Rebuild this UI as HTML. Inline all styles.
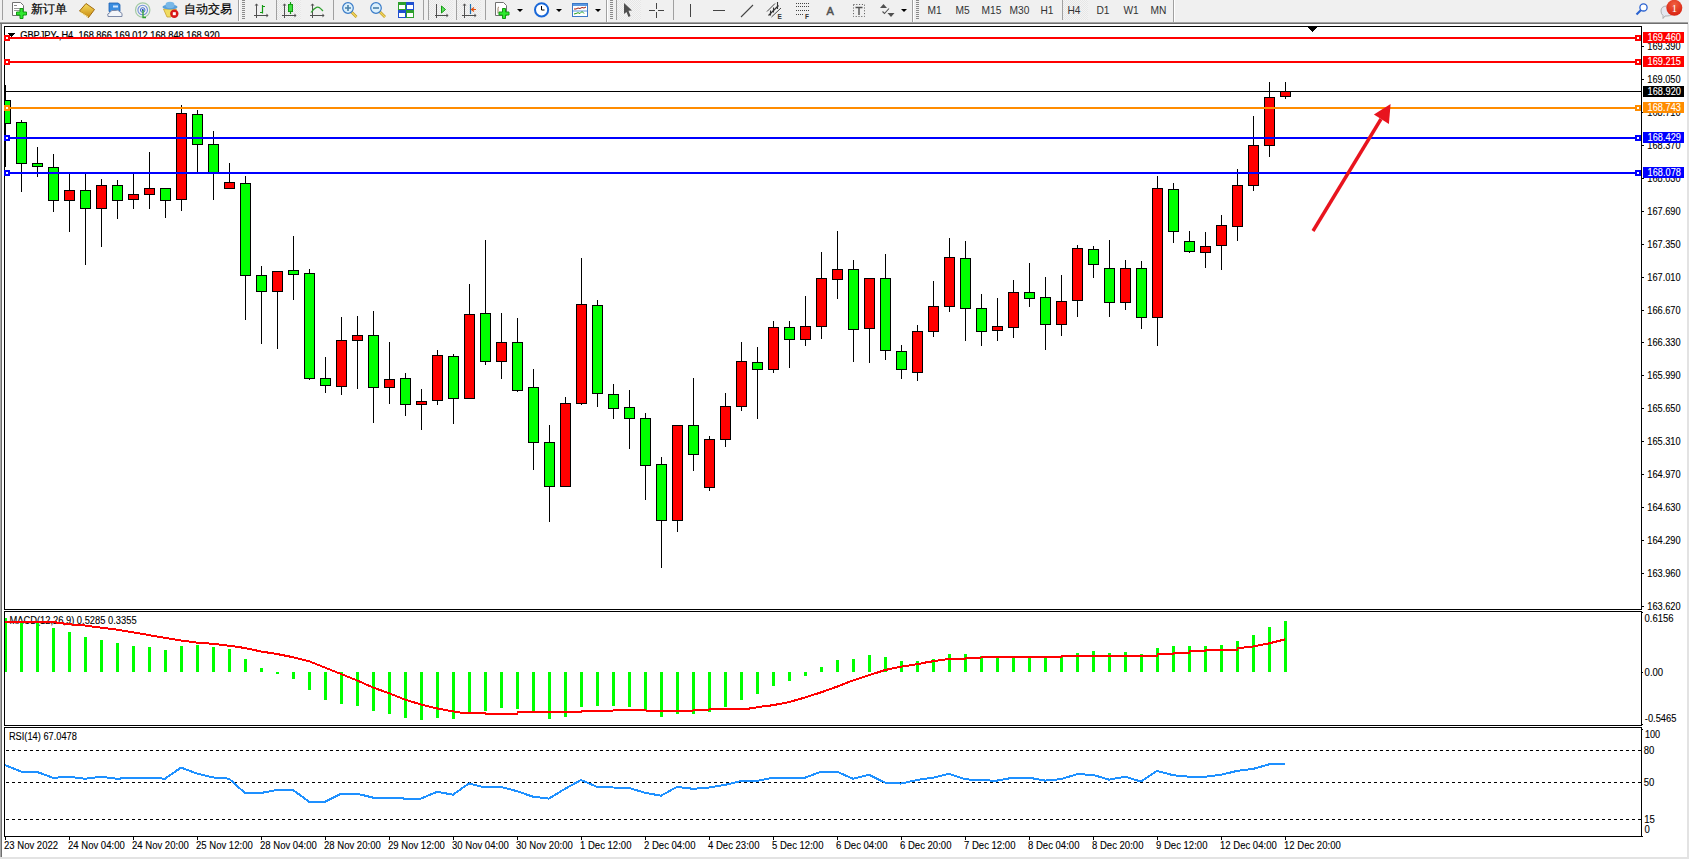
<!DOCTYPE html>
<html><head><meta charset="utf-8"><title>MT4</title>
<style>
html,body{margin:0;padding:0;}
body{width:1689px;height:859px;background:#f0f0f0;position:relative;overflow:hidden;font-family:"Liberation Sans", sans-serif;}
.tb{position:absolute;left:0;top:0;width:1689px;height:22px;background:#f0f0f0;}
.tb svg{position:absolute;left:0;top:0;}
</style></head><body>
<svg width="1689" height="859" viewBox="0 0 1689 859" style="position:absolute;left:0;top:0" shape-rendering="crispEdges"><rect x="2" y="24" width="1685" height="833" fill="#ffffff"/><rect x="0" y="22" width="1688" height="1" fill="#a3a3a3"/><rect x="0" y="23" width="1688" height="1" fill="#6f6f6f"/><rect x="0" y="24" width="1" height="835" fill="#a8a8a8"/><rect x="1" y="24" width="1" height="835" fill="#6e6e6e"/><rect x="1687" y="24" width="2" height="835" fill="#e3e3e3"/><rect x="0" y="857" width="1689" height="2" fill="#e3e3e3"/><rect x="4" y="26" width="1638" height="1" fill="#000"/><rect x="4" y="609" width="1638" height="1" fill="#000"/><rect x="4" y="26" width="1" height="584" fill="#000"/><rect x="1641" y="26" width="1" height="584" fill="#000"/><rect x="4" y="611" width="1638" height="1" fill="#000"/><rect x="4" y="725" width="1638" height="1" fill="#000"/><rect x="4" y="611" width="1" height="115" fill="#000"/><rect x="1641" y="611" width="1" height="115" fill="#000"/><rect x="4" y="727" width="1638" height="1" fill="#000"/><rect x="4" y="836" width="1638" height="1" fill="#000"/><rect x="4" y="727" width="1" height="110" fill="#000"/><rect x="1641" y="727" width="1" height="110" fill="#000"/><rect x="5" y="91" width="1636" height="1" fill="#000"/><text x="20.2" y="38.6" font-size="10" fill="#000" font-family='"Liberation Sans", sans-serif' textLength="199.5" lengthAdjust="spacingAndGlyphs" stroke="#000" stroke-width="0.2" shape-rendering="auto">GBPJPY-,H4&#160;&#160;168.866 169.012 168.848 168.920</text><polygon points="8,33 15,33 11.5,37" fill="#000"/><rect x="5" y="85" width="1" height="82" fill="#000"/><rect x="4" y="100" width="7" height="24" fill="#000"/><rect x="5" y="101" width="5" height="22" fill="#00ff00"/><rect x="21" y="120" width="1" height="72" fill="#000"/><rect x="16" y="122" width="11" height="42" fill="#000"/><rect x="17" y="123" width="9" height="40" fill="#00ff00"/><rect x="37" y="147" width="1" height="30" fill="#000"/><rect x="32" y="163" width="11" height="4" fill="#000"/><rect x="33" y="164" width="9" height="2" fill="#00ff00"/><rect x="53" y="154" width="1" height="58" fill="#000"/><rect x="48" y="167" width="11" height="34" fill="#000"/><rect x="49" y="168" width="9" height="32" fill="#00ff00"/><rect x="69" y="173" width="1" height="59" fill="#000"/><rect x="64" y="190" width="11" height="11" fill="#000"/><rect x="65" y="191" width="9" height="9" fill="#ff0000"/><rect x="85" y="173" width="1" height="92" fill="#000"/><rect x="80" y="190" width="11" height="19" fill="#000"/><rect x="81" y="191" width="9" height="17" fill="#00ff00"/><rect x="101" y="179" width="1" height="68" fill="#000"/><rect x="96" y="185" width="11" height="24" fill="#000"/><rect x="97" y="186" width="9" height="22" fill="#ff0000"/><rect x="117" y="180" width="1" height="39" fill="#000"/><rect x="112" y="185" width="11" height="16" fill="#000"/><rect x="113" y="186" width="9" height="14" fill="#00ff00"/><rect x="133" y="173" width="1" height="36" fill="#000"/><rect x="128" y="194" width="11" height="6" fill="#000"/><rect x="129" y="195" width="9" height="4" fill="#ff0000"/><rect x="149" y="152" width="1" height="57" fill="#000"/><rect x="144" y="188" width="11" height="7" fill="#000"/><rect x="145" y="189" width="9" height="5" fill="#ff0000"/><rect x="165" y="188" width="1" height="30" fill="#000"/><rect x="160" y="188" width="11" height="13" fill="#000"/><rect x="161" y="189" width="9" height="11" fill="#00ff00"/><rect x="181" y="105" width="1" height="106" fill="#000"/><rect x="176" y="113" width="11" height="87" fill="#000"/><rect x="177" y="114" width="9" height="85" fill="#ff0000"/><rect x="197" y="110" width="1" height="63" fill="#000"/><rect x="192" y="114" width="11" height="31" fill="#000"/><rect x="193" y="115" width="9" height="29" fill="#00ff00"/><rect x="213" y="131" width="1" height="69" fill="#000"/><rect x="208" y="144" width="11" height="29" fill="#000"/><rect x="209" y="145" width="9" height="27" fill="#00ff00"/><rect x="229" y="163" width="1" height="26" fill="#000"/><rect x="224" y="182" width="11" height="7" fill="#000"/><rect x="225" y="183" width="9" height="5" fill="#ff0000"/><rect x="245" y="176" width="1" height="144" fill="#000"/><rect x="240" y="183" width="11" height="93" fill="#000"/><rect x="241" y="184" width="9" height="91" fill="#00ff00"/><rect x="261" y="266" width="1" height="78" fill="#000"/><rect x="256" y="275" width="11" height="17" fill="#000"/><rect x="257" y="276" width="9" height="15" fill="#00ff00"/><rect x="277" y="271" width="1" height="78" fill="#000"/><rect x="272" y="271" width="11" height="21" fill="#000"/><rect x="273" y="272" width="9" height="19" fill="#ff0000"/><rect x="293" y="236" width="1" height="64" fill="#000"/><rect x="288" y="270" width="11" height="5" fill="#000"/><rect x="289" y="271" width="9" height="3" fill="#00ff00"/><rect x="309" y="269" width="1" height="111" fill="#000"/><rect x="304" y="273" width="11" height="106" fill="#000"/><rect x="305" y="274" width="9" height="104" fill="#00ff00"/><rect x="325" y="357" width="1" height="36" fill="#000"/><rect x="320" y="378" width="11" height="8" fill="#000"/><rect x="321" y="379" width="9" height="6" fill="#00ff00"/><rect x="341" y="317" width="1" height="78" fill="#000"/><rect x="336" y="340" width="11" height="47" fill="#000"/><rect x="337" y="341" width="9" height="45" fill="#ff0000"/><rect x="357" y="316" width="1" height="73" fill="#000"/><rect x="352" y="335" width="11" height="6" fill="#000"/><rect x="353" y="336" width="9" height="4" fill="#ff0000"/><rect x="373" y="311" width="1" height="112" fill="#000"/><rect x="368" y="335" width="11" height="53" fill="#000"/><rect x="369" y="336" width="9" height="51" fill="#00ff00"/><rect x="389" y="342" width="1" height="62" fill="#000"/><rect x="384" y="379" width="11" height="9" fill="#000"/><rect x="385" y="380" width="9" height="7" fill="#ff0000"/><rect x="405" y="373" width="1" height="43" fill="#000"/><rect x="400" y="378" width="11" height="27" fill="#000"/><rect x="401" y="379" width="9" height="25" fill="#00ff00"/><rect x="421" y="389" width="1" height="41" fill="#000"/><rect x="416" y="401" width="11" height="4" fill="#000"/><rect x="417" y="402" width="9" height="2" fill="#ff0000"/><rect x="437" y="350" width="1" height="55" fill="#000"/><rect x="432" y="355" width="11" height="46" fill="#000"/><rect x="433" y="356" width="9" height="44" fill="#ff0000"/><rect x="453" y="354" width="1" height="70" fill="#000"/><rect x="448" y="356" width="11" height="43" fill="#000"/><rect x="449" y="357" width="9" height="41" fill="#00ff00"/><rect x="469" y="284" width="1" height="115" fill="#000"/><rect x="464" y="314" width="11" height="85" fill="#000"/><rect x="465" y="315" width="9" height="83" fill="#ff0000"/><rect x="485" y="240" width="1" height="125" fill="#000"/><rect x="480" y="313" width="11" height="49" fill="#000"/><rect x="481" y="314" width="9" height="47" fill="#00ff00"/><rect x="501" y="313" width="1" height="66" fill="#000"/><rect x="496" y="342" width="11" height="20" fill="#000"/><rect x="497" y="343" width="9" height="18" fill="#ff0000"/><rect x="517" y="318" width="1" height="74" fill="#000"/><rect x="512" y="342" width="11" height="49" fill="#000"/><rect x="513" y="343" width="9" height="47" fill="#00ff00"/><rect x="533" y="369" width="1" height="101" fill="#000"/><rect x="528" y="387" width="11" height="56" fill="#000"/><rect x="529" y="388" width="9" height="54" fill="#00ff00"/><rect x="549" y="425" width="1" height="97" fill="#000"/><rect x="544" y="442" width="11" height="45" fill="#000"/><rect x="545" y="443" width="9" height="43" fill="#00ff00"/><rect x="565" y="397" width="1" height="90" fill="#000"/><rect x="560" y="403" width="11" height="84" fill="#000"/><rect x="561" y="404" width="9" height="82" fill="#ff0000"/><rect x="581" y="258" width="1" height="147" fill="#000"/><rect x="576" y="304" width="11" height="100" fill="#000"/><rect x="577" y="305" width="9" height="98" fill="#ff0000"/><rect x="597" y="300" width="1" height="107" fill="#000"/><rect x="592" y="305" width="11" height="89" fill="#000"/><rect x="593" y="306" width="9" height="87" fill="#00ff00"/><rect x="613" y="384" width="1" height="35" fill="#000"/><rect x="608" y="394" width="11" height="15" fill="#000"/><rect x="609" y="395" width="9" height="13" fill="#00ff00"/><rect x="629" y="390" width="1" height="59" fill="#000"/><rect x="624" y="407" width="11" height="12" fill="#000"/><rect x="625" y="408" width="9" height="10" fill="#00ff00"/><rect x="645" y="413" width="1" height="87" fill="#000"/><rect x="640" y="418" width="11" height="48" fill="#000"/><rect x="641" y="419" width="9" height="46" fill="#00ff00"/><rect x="661" y="457" width="1" height="111" fill="#000"/><rect x="656" y="464" width="11" height="57" fill="#000"/><rect x="657" y="465" width="9" height="55" fill="#00ff00"/><rect x="677" y="425" width="1" height="107" fill="#000"/><rect x="672" y="425" width="11" height="96" fill="#000"/><rect x="673" y="426" width="9" height="94" fill="#ff0000"/><rect x="693" y="378" width="1" height="93" fill="#000"/><rect x="688" y="425" width="11" height="30" fill="#000"/><rect x="689" y="426" width="9" height="28" fill="#00ff00"/><rect x="709" y="436" width="1" height="55" fill="#000"/><rect x="704" y="439" width="11" height="49" fill="#000"/><rect x="705" y="440" width="9" height="47" fill="#ff0000"/><rect x="725" y="393" width="1" height="54" fill="#000"/><rect x="720" y="406" width="11" height="34" fill="#000"/><rect x="721" y="407" width="9" height="32" fill="#ff0000"/><rect x="741" y="342" width="1" height="69" fill="#000"/><rect x="736" y="361" width="11" height="46" fill="#000"/><rect x="737" y="362" width="9" height="44" fill="#ff0000"/><rect x="757" y="347" width="1" height="72" fill="#000"/><rect x="752" y="362" width="11" height="8" fill="#000"/><rect x="753" y="363" width="9" height="6" fill="#00ff00"/><rect x="773" y="321" width="1" height="52" fill="#000"/><rect x="768" y="327" width="11" height="43" fill="#000"/><rect x="769" y="328" width="9" height="41" fill="#ff0000"/><rect x="789" y="321" width="1" height="47" fill="#000"/><rect x="784" y="327" width="11" height="13" fill="#000"/><rect x="785" y="328" width="9" height="11" fill="#00ff00"/><rect x="805" y="296" width="1" height="50" fill="#000"/><rect x="800" y="326" width="11" height="14" fill="#000"/><rect x="801" y="327" width="9" height="12" fill="#ff0000"/><rect x="821" y="252" width="1" height="87" fill="#000"/><rect x="816" y="278" width="11" height="49" fill="#000"/><rect x="817" y="279" width="9" height="47" fill="#ff0000"/><rect x="837" y="231" width="1" height="68" fill="#000"/><rect x="832" y="269" width="11" height="11" fill="#000"/><rect x="833" y="270" width="9" height="9" fill="#ff0000"/><rect x="853" y="260" width="1" height="102" fill="#000"/><rect x="848" y="269" width="11" height="61" fill="#000"/><rect x="849" y="270" width="9" height="59" fill="#00ff00"/><rect x="869" y="278" width="1" height="85" fill="#000"/><rect x="864" y="278" width="11" height="51" fill="#000"/><rect x="865" y="279" width="9" height="49" fill="#ff0000"/><rect x="885" y="254" width="1" height="106" fill="#000"/><rect x="880" y="278" width="11" height="73" fill="#000"/><rect x="881" y="279" width="9" height="71" fill="#00ff00"/><rect x="901" y="345" width="1" height="34" fill="#000"/><rect x="896" y="351" width="11" height="19" fill="#000"/><rect x="897" y="352" width="9" height="17" fill="#00ff00"/><rect x="917" y="325" width="1" height="56" fill="#000"/><rect x="912" y="331" width="11" height="42" fill="#000"/><rect x="913" y="332" width="9" height="40" fill="#ff0000"/><rect x="933" y="281" width="1" height="56" fill="#000"/><rect x="928" y="306" width="11" height="26" fill="#000"/><rect x="929" y="307" width="9" height="24" fill="#ff0000"/><rect x="949" y="238" width="1" height="74" fill="#000"/><rect x="944" y="257" width="11" height="50" fill="#000"/><rect x="945" y="258" width="9" height="48" fill="#ff0000"/><rect x="965" y="241" width="1" height="100" fill="#000"/><rect x="960" y="258" width="11" height="51" fill="#000"/><rect x="961" y="259" width="9" height="49" fill="#00ff00"/><rect x="981" y="294" width="1" height="52" fill="#000"/><rect x="976" y="308" width="11" height="24" fill="#000"/><rect x="977" y="309" width="9" height="22" fill="#00ff00"/><rect x="997" y="298" width="1" height="43" fill="#000"/><rect x="992" y="326" width="11" height="5" fill="#000"/><rect x="993" y="327" width="9" height="3" fill="#ff0000"/><rect x="1013" y="280" width="1" height="58" fill="#000"/><rect x="1008" y="292" width="11" height="36" fill="#000"/><rect x="1009" y="293" width="9" height="34" fill="#ff0000"/><rect x="1029" y="263" width="1" height="44" fill="#000"/><rect x="1024" y="292" width="11" height="7" fill="#000"/><rect x="1025" y="293" width="9" height="5" fill="#00ff00"/><rect x="1045" y="277" width="1" height="73" fill="#000"/><rect x="1040" y="297" width="11" height="28" fill="#000"/><rect x="1041" y="298" width="9" height="26" fill="#00ff00"/><rect x="1061" y="275" width="1" height="61" fill="#000"/><rect x="1056" y="301" width="11" height="24" fill="#000"/><rect x="1057" y="302" width="9" height="22" fill="#ff0000"/><rect x="1077" y="245" width="1" height="72" fill="#000"/><rect x="1072" y="248" width="11" height="53" fill="#000"/><rect x="1073" y="249" width="9" height="51" fill="#ff0000"/><rect x="1093" y="246" width="1" height="32" fill="#000"/><rect x="1088" y="249" width="11" height="16" fill="#000"/><rect x="1089" y="250" width="9" height="14" fill="#00ff00"/><rect x="1109" y="240" width="1" height="77" fill="#000"/><rect x="1104" y="268" width="11" height="35" fill="#000"/><rect x="1105" y="269" width="9" height="33" fill="#00ff00"/><rect x="1125" y="260" width="1" height="50" fill="#000"/><rect x="1120" y="268" width="11" height="35" fill="#000"/><rect x="1121" y="269" width="9" height="33" fill="#ff0000"/><rect x="1141" y="261" width="1" height="68" fill="#000"/><rect x="1136" y="268" width="11" height="50" fill="#000"/><rect x="1137" y="269" width="9" height="48" fill="#00ff00"/><rect x="1157" y="176" width="1" height="170" fill="#000"/><rect x="1152" y="188" width="11" height="130" fill="#000"/><rect x="1153" y="189" width="9" height="128" fill="#ff0000"/><rect x="1173" y="183" width="1" height="60" fill="#000"/><rect x="1168" y="189" width="11" height="43" fill="#000"/><rect x="1169" y="190" width="9" height="41" fill="#00ff00"/><rect x="1189" y="231" width="1" height="22" fill="#000"/><rect x="1184" y="241" width="11" height="11" fill="#000"/><rect x="1185" y="242" width="9" height="9" fill="#00ff00"/><rect x="1205" y="232" width="1" height="36" fill="#000"/><rect x="1200" y="246" width="11" height="7" fill="#000"/><rect x="1201" y="247" width="9" height="5" fill="#ff0000"/><rect x="1221" y="215" width="1" height="55" fill="#000"/><rect x="1216" y="225" width="11" height="21" fill="#000"/><rect x="1217" y="226" width="9" height="19" fill="#ff0000"/><rect x="1237" y="169" width="1" height="72" fill="#000"/><rect x="1232" y="185" width="11" height="42" fill="#000"/><rect x="1233" y="186" width="9" height="40" fill="#ff0000"/><rect x="1253" y="116" width="1" height="75" fill="#000"/><rect x="1248" y="145" width="11" height="41" fill="#000"/><rect x="1249" y="146" width="9" height="39" fill="#ff0000"/><rect x="1269" y="82" width="1" height="75" fill="#000"/><rect x="1264" y="97" width="11" height="49" fill="#000"/><rect x="1265" y="98" width="9" height="47" fill="#ff0000"/><rect x="1285" y="82" width="1" height="17" fill="#000"/><rect x="1280" y="91" width="11" height="6" fill="#000"/><rect x="1281" y="92" width="9" height="4" fill="#ff0000"/><rect x="5" y="37" width="1636" height="2" fill="#ff0000"/><rect x="4" y="35" width="6" height="6" fill="#ff0000"/><rect x="6" y="37" width="2" height="2" fill="#fff"/><rect x="1635" y="35" width="6" height="6" fill="#ff0000"/><rect x="1637" y="37" width="2" height="2" fill="#fff"/><rect x="5" y="61" width="1636" height="2" fill="#ff0000"/><rect x="4" y="59" width="6" height="6" fill="#ff0000"/><rect x="6" y="61" width="2" height="2" fill="#fff"/><rect x="1635" y="59" width="6" height="6" fill="#ff0000"/><rect x="1637" y="61" width="2" height="2" fill="#fff"/><rect x="5" y="107" width="1636" height="2" fill="#ff8c00"/><rect x="4" y="105" width="6" height="6" fill="#ff8c00"/><rect x="6" y="107" width="2" height="2" fill="#fff"/><rect x="1635" y="105" width="6" height="6" fill="#ff8c00"/><rect x="1637" y="107" width="2" height="2" fill="#fff"/><rect x="5" y="137" width="1636" height="2" fill="#0000ff"/><rect x="4" y="135" width="6" height="6" fill="#0000ff"/><rect x="6" y="137" width="2" height="2" fill="#fff"/><rect x="1635" y="135" width="6" height="6" fill="#0000ff"/><rect x="1637" y="137" width="2" height="2" fill="#fff"/><rect x="5" y="172" width="1636" height="2" fill="#0000ff"/><rect x="4" y="170" width="6" height="6" fill="#0000ff"/><rect x="6" y="172" width="2" height="2" fill="#fff"/><rect x="1635" y="170" width="6" height="6" fill="#0000ff"/><rect x="1637" y="172" width="2" height="2" fill="#fff"/><polygon points="1307,26 1318,26 1312.5,32" fill="#000"/><g shape-rendering="geometricPrecision"><line x1="1313" y1="231" x2="1381" y2="119" stroke="#e8141e" stroke-width="3.4"/><polygon points="1390.6,104 1373.9,114.4 1388.9,123.9" fill="#e8141e"/></g><rect x="1642" y="46" width="2" height="1" fill="#000"/><rect x="1642" y="79" width="2" height="1" fill="#000"/><rect x="1642" y="112" width="2" height="1" fill="#000"/><rect x="1642" y="145" width="2" height="1" fill="#000"/><rect x="1642" y="178" width="2" height="1" fill="#000"/><rect x="1642" y="211" width="2" height="1" fill="#000"/><rect x="1642" y="244" width="2" height="1" fill="#000"/><rect x="1642" y="277" width="2" height="1" fill="#000"/><rect x="1642" y="310" width="2" height="1" fill="#000"/><rect x="1642" y="342" width="2" height="1" fill="#000"/><rect x="1642" y="375" width="2" height="1" fill="#000"/><rect x="1642" y="408" width="2" height="1" fill="#000"/><rect x="1642" y="441" width="2" height="1" fill="#000"/><rect x="1642" y="474" width="2" height="1" fill="#000"/><rect x="1642" y="507" width="2" height="1" fill="#000"/><rect x="1642" y="540" width="2" height="1" fill="#000"/><rect x="1642" y="573" width="2" height="1" fill="#000"/><rect x="1642" y="606" width="2" height="1" fill="#000"/><rect x="1642" y="612" width="1" height="1" fill="#000"/><rect x="1642" y="672" width="1" height="1" fill="#000"/><rect x="1642" y="724" width="1" height="1" fill="#000"/><rect x="1642" y="729" width="1" height="1" fill="#000"/><rect x="1642" y="836" width="1" height="1" fill="#000"/><g font-family='"Liberation Sans", sans-serif' shape-rendering="auto"><text x="9.4" y="624" font-size="10" fill="#000" stroke="#000" stroke-width="0.1" textLength="127.2" lengthAdjust="spacingAndGlyphs">MACD(12,26,9) 0.5285 0.3355</text><text x="8.9" y="740" font-size="10" fill="#000" stroke="#000" stroke-width="0.1" textLength="68" lengthAdjust="spacingAndGlyphs">RSI(14) 67.0478</text></g><rect x="5" y="618" width="2" height="54" fill="#00ff00"/><rect x="20" y="623" width="3" height="49" fill="#00ff00"/><rect x="36" y="623" width="3" height="49" fill="#00ff00"/><rect x="52" y="628" width="3" height="44" fill="#00ff00"/><rect x="68" y="632" width="3" height="40" fill="#00ff00"/><rect x="84" y="637" width="3" height="35" fill="#00ff00"/><rect x="100" y="640" width="3" height="32" fill="#00ff00"/><rect x="116" y="643" width="3" height="29" fill="#00ff00"/><rect x="132" y="646" width="3" height="26" fill="#00ff00"/><rect x="148" y="647" width="3" height="25" fill="#00ff00"/><rect x="164" y="650" width="3" height="22" fill="#00ff00"/><rect x="180" y="646" width="3" height="26" fill="#00ff00"/><rect x="196" y="645" width="3" height="27" fill="#00ff00"/><rect x="212" y="647" width="3" height="25" fill="#00ff00"/><rect x="228" y="649" width="3" height="23" fill="#00ff00"/><rect x="244" y="659" width="3" height="13" fill="#00ff00"/><rect x="260" y="668" width="3" height="4" fill="#00ff00"/><rect x="276" y="672" width="3" height="2" fill="#00ff00"/><rect x="292" y="672" width="3" height="7" fill="#00ff00"/><rect x="308" y="672" width="3" height="18" fill="#00ff00"/><rect x="324" y="672" width="3" height="28" fill="#00ff00"/><rect x="340" y="672" width="3" height="32" fill="#00ff00"/><rect x="356" y="672" width="3" height="34" fill="#00ff00"/><rect x="372" y="672" width="3" height="39" fill="#00ff00"/><rect x="388" y="672" width="3" height="42" fill="#00ff00"/><rect x="404" y="672" width="3" height="46" fill="#00ff00"/><rect x="420" y="672" width="3" height="48" fill="#00ff00"/><rect x="436" y="672" width="3" height="46" fill="#00ff00"/><rect x="452" y="672" width="3" height="47" fill="#00ff00"/><rect x="468" y="672" width="3" height="41" fill="#00ff00"/><rect x="484" y="672" width="3" height="39" fill="#00ff00"/><rect x="500" y="672" width="3" height="36" fill="#00ff00"/><rect x="516" y="672" width="3" height="37" fill="#00ff00"/><rect x="532" y="672" width="3" height="41" fill="#00ff00"/><rect x="548" y="672" width="3" height="47" fill="#00ff00"/><rect x="564" y="672" width="3" height="45" fill="#00ff00"/><rect x="580" y="672" width="3" height="35" fill="#00ff00"/><rect x="596" y="672" width="3" height="34" fill="#00ff00"/><rect x="612" y="672" width="3" height="34" fill="#00ff00"/><rect x="628" y="672" width="3" height="35" fill="#00ff00"/><rect x="644" y="672" width="3" height="38" fill="#00ff00"/><rect x="660" y="672" width="3" height="45" fill="#00ff00"/><rect x="676" y="672" width="3" height="42" fill="#00ff00"/><rect x="692" y="672" width="3" height="42" fill="#00ff00"/><rect x="708" y="672" width="3" height="40" fill="#00ff00"/><rect x="724" y="672" width="3" height="35" fill="#00ff00"/><rect x="740" y="672" width="3" height="28" fill="#00ff00"/><rect x="756" y="672" width="3" height="22" fill="#00ff00"/><rect x="772" y="672" width="3" height="14" fill="#00ff00"/><rect x="788" y="672" width="3" height="9" fill="#00ff00"/><rect x="804" y="672" width="3" height="4" fill="#00ff00"/><rect x="820" y="667" width="3" height="5" fill="#00ff00"/><rect x="836" y="660" width="3" height="12" fill="#00ff00"/><rect x="852" y="659" width="3" height="13" fill="#00ff00"/><rect x="868" y="655" width="3" height="17" fill="#00ff00"/><rect x="884" y="657" width="3" height="15" fill="#00ff00"/><rect x="900" y="661" width="3" height="11" fill="#00ff00"/><rect x="916" y="661" width="3" height="11" fill="#00ff00"/><rect x="932" y="659" width="3" height="13" fill="#00ff00"/><rect x="948" y="654" width="3" height="18" fill="#00ff00"/><rect x="964" y="654" width="3" height="18" fill="#00ff00"/><rect x="980" y="656" width="3" height="16" fill="#00ff00"/><rect x="996" y="657" width="3" height="15" fill="#00ff00"/><rect x="1012" y="657" width="3" height="15" fill="#00ff00"/><rect x="1028" y="657" width="3" height="15" fill="#00ff00"/><rect x="1044" y="657" width="3" height="15" fill="#00ff00"/><rect x="1060" y="656" width="3" height="16" fill="#00ff00"/><rect x="1076" y="653" width="3" height="19" fill="#00ff00"/><rect x="1092" y="651" width="3" height="21" fill="#00ff00"/><rect x="1108" y="653" width="3" height="19" fill="#00ff00"/><rect x="1124" y="652" width="3" height="20" fill="#00ff00"/><rect x="1140" y="654" width="3" height="18" fill="#00ff00"/><rect x="1156" y="648" width="3" height="24" fill="#00ff00"/><rect x="1172" y="646" width="3" height="26" fill="#00ff00"/><rect x="1188" y="646" width="3" height="26" fill="#00ff00"/><rect x="1204" y="646" width="3" height="26" fill="#00ff00"/><rect x="1220" y="645" width="3" height="27" fill="#00ff00"/><rect x="1236" y="641" width="3" height="31" fill="#00ff00"/><rect x="1252" y="635" width="3" height="37" fill="#00ff00"/><rect x="1268" y="627" width="3" height="45" fill="#00ff00"/><rect x="1284" y="621" width="3" height="51" fill="#00ff00"/><polyline points="5,622 53,622 69,624.3 85,625.5 93,626.6 101,627.6 109,628.7 117,629.6 133,632.3 149,635.1 165,637.8 181,640.5 197,642.6 213,643.8 229,645.7 245,648 261,651.5 277,654 293,657.2 309,661.2 325,667.6 341,674 357,680.4 373,687.5 389,693.2 405,699.6 421,704.5 437,708.4 453,711.4 462,712.8 485,712.8 486,713.7 517,713.7 518,712.4 581,712.4 582,711.4 597,711.4 598,710.5 613,710.5 614,709.5 645,709.5 646,710.5 693,710.5 694,709.5 709,709.5 710,708.6 749,708.6 760,706.8 773,705.2 789,702.1 805.5,697.4 821.4,692.2 837.5,686.5 853.3,680.3 869.4,675.1 885.5,669.9 901.4,666.6 917.4,664.2 926,662.4 941,660 950,658.8 965,658.8 966,657.6 981,657.6 982,656.9 1061,656.9 1062,655.7 1157,655.7 1158,654.1 1173,654.1 1174,652.9 1189,652.9 1190,651.2 1205,651.2 1206,649.8 1237,649.8 1238,648.2 1253,646.5 1269,643.4 1285,639.4" fill="none" stroke="#ff0000" stroke-width="2"/><line x1="6" y1="750.5" x2="1641" y2="750.5" stroke="#000" stroke-width="1" stroke-dasharray="3,3"/><line x1="6" y1="782.5" x2="1641" y2="782.5" stroke="#000" stroke-width="1" stroke-dasharray="3,3"/><line x1="6" y1="819.5" x2="1641" y2="819.5" stroke="#000" stroke-width="1" stroke-dasharray="3,3"/><polyline points="5,765 21,771.5 37,771.9 53,777.8 69,776.8 85,778.7 101,776.8 117,778.7 133,777.8 149,777.8 165,778.7 181,767.6 197,773.5 213,777.4 229,778.7 245,793 261,793 277,789.9 293,789.9 309,801.8 325,801.8 341,793.7 357,793.7 373,797.6 389,797.6 405,798.6 421,798.6 437,791.8 453,794.7 469,783.4 485,787.5 501,786.9 517,791.2 533,796.7 549,798.6 565,788.8 581,780 597,786.9 613,787.5 629,787.9 645,792.8 661,795.7 677,786.9 693,788.8 709,787.5 725,784.9 741,781 757,781 773,777.7 789,777.7 805,777.7 821,771.7 837,771.7 853,778.7 869,774.8 885,782.6 901,783.6 917,780 933,777.7 949,773.8 965,779.2 981,780.4 997,780.6 1013,777.7 1029,777.7 1045,780.6 1061,779.1 1077,774.2 1093,774.8 1109,779.7 1125,776.7 1141,781.6 1157,770.9 1173,775.2 1189,776.7 1205,776.7 1221,774.8 1237,770.9 1253,768.9 1269,764.4 1285,763.8" fill="none" stroke="#1e90ff" stroke-width="2"/><rect x="5" y="837" width="1" height="3" fill="#000"/><rect x="69" y="837" width="1" height="3" fill="#000"/><rect x="133" y="837" width="1" height="3" fill="#000"/><rect x="197" y="837" width="1" height="3" fill="#000"/><rect x="261" y="837" width="1" height="3" fill="#000"/><rect x="325" y="837" width="1" height="3" fill="#000"/><rect x="389" y="837" width="1" height="3" fill="#000"/><rect x="453" y="837" width="1" height="3" fill="#000"/><rect x="517" y="837" width="1" height="3" fill="#000"/><rect x="581" y="837" width="1" height="3" fill="#000"/><rect x="645" y="837" width="1" height="3" fill="#000"/><rect x="709" y="837" width="1" height="3" fill="#000"/><rect x="773" y="837" width="1" height="3" fill="#000"/><rect x="837" y="837" width="1" height="3" fill="#000"/><rect x="901" y="837" width="1" height="3" fill="#000"/><rect x="965" y="837" width="1" height="3" fill="#000"/><rect x="1029" y="837" width="1" height="3" fill="#000"/><rect x="1093" y="837" width="1" height="3" fill="#000"/><rect x="1157" y="837" width="1" height="3" fill="#000"/><rect x="1221" y="837" width="1" height="3" fill="#000"/><rect x="1285" y="837" width="1" height="3" fill="#000"/><g font-family='"Liberation Sans", sans-serif' shape-rendering="auto"><text x="1647.3" y="50" font-size="10" fill="#000" stroke="#000" stroke-width="0.1" textLength="33.3" lengthAdjust="spacingAndGlyphs">169.390</text><text x="1647.3" y="83" font-size="10" fill="#000" stroke="#000" stroke-width="0.1" textLength="33.3" lengthAdjust="spacingAndGlyphs">169.050</text><text x="1647.3" y="116" font-size="10" fill="#000" stroke="#000" stroke-width="0.1" textLength="33.3" lengthAdjust="spacingAndGlyphs">168.710</text><text x="1647.3" y="149" font-size="10" fill="#000" stroke="#000" stroke-width="0.1" textLength="33.3" lengthAdjust="spacingAndGlyphs">168.370</text><text x="1647.3" y="182" font-size="10" fill="#000" stroke="#000" stroke-width="0.1" textLength="33.3" lengthAdjust="spacingAndGlyphs">168.030</text><text x="1647.3" y="215" font-size="10" fill="#000" stroke="#000" stroke-width="0.1" textLength="33.3" lengthAdjust="spacingAndGlyphs">167.690</text><text x="1647.3" y="248" font-size="10" fill="#000" stroke="#000" stroke-width="0.1" textLength="33.3" lengthAdjust="spacingAndGlyphs">167.350</text><text x="1647.3" y="281" font-size="10" fill="#000" stroke="#000" stroke-width="0.1" textLength="33.3" lengthAdjust="spacingAndGlyphs">167.010</text><text x="1647.3" y="314" font-size="10" fill="#000" stroke="#000" stroke-width="0.1" textLength="33.3" lengthAdjust="spacingAndGlyphs">166.670</text><text x="1647.3" y="346" font-size="10" fill="#000" stroke="#000" stroke-width="0.1" textLength="33.3" lengthAdjust="spacingAndGlyphs">166.330</text><text x="1647.3" y="379" font-size="10" fill="#000" stroke="#000" stroke-width="0.1" textLength="33.3" lengthAdjust="spacingAndGlyphs">165.990</text><text x="1647.3" y="412" font-size="10" fill="#000" stroke="#000" stroke-width="0.1" textLength="33.3" lengthAdjust="spacingAndGlyphs">165.650</text><text x="1647.3" y="445" font-size="10" fill="#000" stroke="#000" stroke-width="0.1" textLength="33.3" lengthAdjust="spacingAndGlyphs">165.310</text><text x="1647.3" y="478" font-size="10" fill="#000" stroke="#000" stroke-width="0.1" textLength="33.3" lengthAdjust="spacingAndGlyphs">164.970</text><text x="1647.3" y="511" font-size="10" fill="#000" stroke="#000" stroke-width="0.1" textLength="33.3" lengthAdjust="spacingAndGlyphs">164.630</text><text x="1647.3" y="544" font-size="10" fill="#000" stroke="#000" stroke-width="0.1" textLength="33.3" lengthAdjust="spacingAndGlyphs">164.290</text><text x="1647.3" y="577" font-size="10" fill="#000" stroke="#000" stroke-width="0.1" textLength="33.3" lengthAdjust="spacingAndGlyphs">163.960</text><text x="1647.3" y="610" font-size="10" fill="#000" stroke="#000" stroke-width="0.1" textLength="33.3" lengthAdjust="spacingAndGlyphs">163.620</text><rect x="1643" y="32" width="41" height="11" fill="#ff0000"/><text x="1647.6" y="41" font-size="10" fill="#fff" stroke="#fff" stroke-width="0.1" textLength="33.3" lengthAdjust="spacingAndGlyphs">169.460</text><rect x="1643" y="56" width="41" height="11" fill="#ff0000"/><text x="1647.6" y="65" font-size="10" fill="#fff" stroke="#fff" stroke-width="0.1" textLength="33.3" lengthAdjust="spacingAndGlyphs">169.215</text><rect x="1643" y="86" width="41" height="11" fill="#000000"/><text x="1647.6" y="95" font-size="10" fill="#fff" stroke="#fff" stroke-width="0.1" textLength="33.3" lengthAdjust="spacingAndGlyphs">168.920</text><rect x="1643" y="102" width="41" height="11" fill="#ff8c00"/><text x="1647.6" y="111" font-size="10" fill="#fff" stroke="#fff" stroke-width="0.1" textLength="33.3" lengthAdjust="spacingAndGlyphs">168.743</text><rect x="1643" y="132" width="41" height="11" fill="#0000ff"/><text x="1647.6" y="141" font-size="10" fill="#fff" stroke="#fff" stroke-width="0.1" textLength="33.3" lengthAdjust="spacingAndGlyphs">168.429</text><rect x="1643" y="167" width="41" height="11" fill="#0000ff"/><text x="1647.6" y="176" font-size="10" fill="#fff" stroke="#fff" stroke-width="0.1" textLength="33.3" lengthAdjust="spacingAndGlyphs">168.078</text><text x="1644.6" y="622" font-size="10" fill="#000" stroke="#000" stroke-width="0.1" textLength="29" lengthAdjust="spacingAndGlyphs">0.6156</text><text transform="translate(1644.6,676) scale(0.955,1)" font-size="10" fill="#000" stroke="#000" stroke-width="0.1">0.00</text><text x="1644.8" y="722" font-size="10" fill="#000" stroke="#000" stroke-width="0.1" textLength="31.6" lengthAdjust="spacingAndGlyphs">-0.5465</text><text x="1644.9" y="738" font-size="10" fill="#000" stroke="#000" stroke-width="0.1" textLength="15.2" lengthAdjust="spacingAndGlyphs">100</text><text transform="translate(1643.7,754) scale(0.955,1)" font-size="10" fill="#000" stroke="#000" stroke-width="0.1">80</text><text transform="translate(1643.7,786) scale(0.955,1)" font-size="10" fill="#000" stroke="#000" stroke-width="0.1">50</text><text transform="translate(1644.3,823) scale(0.955,1)" font-size="10" fill="#000" stroke="#000" stroke-width="0.1">15</text><text transform="translate(1644.6,833) scale(0.955,1)" font-size="10" fill="#000" stroke="#000" stroke-width="0.1">0</text><text transform="translate(4,849) scale(0.955,1)" font-size="10" fill="#000" stroke="#000" stroke-width="0.1">23 Nov 2022</text><text transform="translate(68,849) scale(0.955,1)" font-size="10" fill="#000" stroke="#000" stroke-width="0.1">24 Nov 04:00</text><text transform="translate(132,849) scale(0.955,1)" font-size="10" fill="#000" stroke="#000" stroke-width="0.1">24 Nov 20:00</text><text transform="translate(196,849) scale(0.955,1)" font-size="10" fill="#000" stroke="#000" stroke-width="0.1">25 Nov 12:00</text><text transform="translate(260,849) scale(0.955,1)" font-size="10" fill="#000" stroke="#000" stroke-width="0.1">28 Nov 04:00</text><text transform="translate(324,849) scale(0.955,1)" font-size="10" fill="#000" stroke="#000" stroke-width="0.1">28 Nov 20:00</text><text transform="translate(388,849) scale(0.955,1)" font-size="10" fill="#000" stroke="#000" stroke-width="0.1">29 Nov 12:00</text><text transform="translate(452,849) scale(0.955,1)" font-size="10" fill="#000" stroke="#000" stroke-width="0.1">30 Nov 04:00</text><text transform="translate(516,849) scale(0.955,1)" font-size="10" fill="#000" stroke="#000" stroke-width="0.1">30 Nov 20:00</text><text transform="translate(580,849) scale(0.955,1)" font-size="10" fill="#000" stroke="#000" stroke-width="0.1">1 Dec 12:00</text><text transform="translate(644,849) scale(0.955,1)" font-size="10" fill="#000" stroke="#000" stroke-width="0.1">2 Dec 04:00</text><text transform="translate(708,849) scale(0.955,1)" font-size="10" fill="#000" stroke="#000" stroke-width="0.1">4 Dec 23:00</text><text transform="translate(772,849) scale(0.955,1)" font-size="10" fill="#000" stroke="#000" stroke-width="0.1">5 Dec 12:00</text><text transform="translate(836,849) scale(0.955,1)" font-size="10" fill="#000" stroke="#000" stroke-width="0.1">6 Dec 04:00</text><text transform="translate(900,849) scale(0.955,1)" font-size="10" fill="#000" stroke="#000" stroke-width="0.1">6 Dec 20:00</text><text transform="translate(964,849) scale(0.955,1)" font-size="10" fill="#000" stroke="#000" stroke-width="0.1">7 Dec 12:00</text><text transform="translate(1028,849) scale(0.955,1)" font-size="10" fill="#000" stroke="#000" stroke-width="0.1">8 Dec 04:00</text><text transform="translate(1092,849) scale(0.955,1)" font-size="10" fill="#000" stroke="#000" stroke-width="0.1">8 Dec 20:00</text><text transform="translate(1156,849) scale(0.955,1)" font-size="10" fill="#000" stroke="#000" stroke-width="0.1">9 Dec 12:00</text><text transform="translate(1220,849) scale(0.955,1)" font-size="10" fill="#000" stroke="#000" stroke-width="0.1">12 Dec 04:00</text><text transform="translate(1284,849) scale(0.955,1)" font-size="10" fill="#000" stroke="#000" stroke-width="0.1">12 Dec 20:00</text></g></svg>
<div class="tb"><svg width="1689" height="22" viewBox="0 0 1689 22" font-family="'Liberation Sans', sans-serif">
<defs>
<pattern id="chk" width="2" height="2" patternUnits="userSpaceOnUse"><rect width="2" height="2" fill="#f4f4f4"/><rect width="1" height="1" fill="#e6e6e6"/><rect x="1" y="1" width="1" height="1" fill="#e6e6e6"/></pattern>
<linearGradient id="gold" x1="0" y1="0" x2="0" y2="1"><stop offset="0" stop-color="#f8de60"/><stop offset="1" stop-color="#c88a10"/></linearGradient>
<radialGradient id="redb" cx="0.5" cy="0.3" r="0.7"><stop offset="0" stop-color="#f06040"/><stop offset="1" stop-color="#d82010"/></radialGradient>
</defs>
<g shape-rendering="crispEdges">
<!-- separators -->
<rect x="2" y="0" width="1" height="20" fill="#a0a0a0"/>
<rect x="238" y="0" width="1" height="21" fill="#a0a0a0"/><rect x="239" y="0" width="1" height="21" fill="#ffffff"/>
<rect x="276" y="0" width="1" height="20" fill="#a0a0a0"/>
<rect x="333" y="0" width="1" height="20" fill="#a0a0a0"/>
<rect x="423" y="0" width="1" height="20" fill="#a0a0a0"/>
<rect x="428" y="0" width="1" height="20" fill="#a0a0a0"/>
<rect x="456" y="0" width="1" height="20" fill="#a0a0a0"/>
<rect x="485" y="0" width="1" height="20" fill="#a0a0a0"/>
<rect x="606" y="0" width="1" height="22" fill="#a0a0a0"/><rect x="607" y="0" width="1" height="22" fill="#ffffff"/>
<rect x="616" y="0" width="1" height="20" fill="#a0a0a0"/>
<rect x="673" y="0" width="1" height="20" fill="#a0a0a0"/>
<rect x="912" y="0" width="1" height="22" fill="#a0a0a0"/><rect x="913" y="0" width="1" height="22" fill="#ffffff"/>
<rect x="1062" y="0" width="1" height="20" fill="#a0a0a0"/>
<rect x="1173" y="0" width="1" height="22" fill="#a0a0a0"/><rect x="1174" y="0" width="1" height="22" fill="#ffffff"/>
<!-- highlighted bgs -->
<rect x="277" y="0" width="24" height="20" fill="url(#chk)"/>
<rect x="429" y="0" width="24" height="20" fill="url(#chk)"/>
<rect x="457" y="0" width="24" height="20" fill="url(#chk)"/>
<rect x="617" y="0" width="24" height="20" fill="url(#chk)"/>
<rect x="1063" y="0" width="25" height="20" fill="url(#chk)"/>
<!-- grips -->
<g fill="#8a8a8a">
<rect x="242" y="0" width="3" height="1"/><rect x="242" y="2" width="3" height="1"/><rect x="242" y="4" width="3" height="1"/><rect x="242" y="6" width="3" height="1"/><rect x="242" y="8" width="3" height="1"/><rect x="242" y="10" width="3" height="1"/><rect x="242" y="12" width="3" height="1"/><rect x="242" y="14" width="3" height="1"/><rect x="242" y="16" width="3" height="1"/><rect x="242" y="18" width="3" height="1"/>
<rect x="610" y="0" width="3" height="1"/><rect x="610" y="2" width="3" height="1"/><rect x="610" y="4" width="3" height="1"/><rect x="610" y="6" width="3" height="1"/><rect x="610" y="8" width="3" height="1"/><rect x="610" y="10" width="3" height="1"/><rect x="610" y="12" width="3" height="1"/><rect x="610" y="14" width="3" height="1"/><rect x="610" y="16" width="3" height="1"/><rect x="610" y="18" width="3" height="1"/>
<rect x="916" y="0" width="3" height="1"/><rect x="916" y="2" width="3" height="1"/><rect x="916" y="4" width="3" height="1"/><rect x="916" y="6" width="3" height="1"/><rect x="916" y="8" width="3" height="1"/><rect x="916" y="10" width="3" height="1"/><rect x="916" y="12" width="3" height="1"/><rect x="916" y="14" width="3" height="1"/><rect x="916" y="16" width="3" height="1"/><rect x="916" y="18" width="3" height="1"/>
</g>
</g>
<!-- new order icon -->
<path d="M12.5,2.5 h8 l3,3 v10 h-11 z" fill="#fff" stroke="#707070"/>
<rect x="14" y="5" width="3" height="1" fill="#888"/><rect x="14" y="8" width="7" height="1" fill="#999"/><rect x="14" y="10" width="6" height="1" fill="#999"/>
<path d="M20,8.5 h3 v3.5 h3.5 v3 h-3.5 v3.5 h-3 v-3.5 h-3.5 v-3 h3.5 z" fill="#2ee82e" stroke="#139a13" stroke-width="1"/>
<text x="30.5" y="13.2" font-size="12" fill="#000" stroke="#000" stroke-width="0.2">新订单</text>
<!-- book -->
<path d="M79.5,11 L86,3.5 L94.5,9.5 L88.5,17.5 Z" fill="url(#gold)" stroke="#a06a10" stroke-width="1"/>
<path d="M80,12 L88,17" stroke="#fff0a0" stroke-width="1"/>
<!-- box cloud -->
<path d="M109,3 h9 l2,1.5 v7 h-11 z" fill="#3a8de0" stroke="#1e5fb0" stroke-width="0.8"/>
<rect x="113" y="5.5" width="5" height="2" fill="#cfe6ff"/>
<path d="M108,16.5 q-1.5,-3 2,-4 q1,-3 5,-2 q3,-1.5 5,1.5 q3,0.5 2,4.5 z" fill="#f4f6fa" stroke="#7d8aa8" stroke-width="1"/>
<!-- radio -->
<circle cx="142.7" cy="10" r="7.2" fill="none" stroke="#8fc090" stroke-width="1.2" opacity="0.8"/>
<circle cx="142.7" cy="10" r="4.8" fill="none" stroke="#7090d8" stroke-width="1.1"/>
<circle cx="142.7" cy="10" r="2.3" fill="none" stroke="#4070d0" stroke-width="1"/>
<circle cx="142.7" cy="10" r="1" fill="#1040c0"/>
<path d="M143,10 v7.5 h3" stroke="#30a030" stroke-width="1.3" fill="none"/>
<!-- auto trading -->
<path d="M163.5,9 L176.5,9 L171,17 L167,17 Z" fill="#f0dc60" stroke="#c8a030" stroke-width="0.8"/>
<ellipse cx="170" cy="7" rx="7.5" ry="2.5" fill="#5aa0d8"/>
<ellipse cx="170" cy="5" rx="4.5" ry="3.2" fill="#78b8e8"/>
<circle cx="174.3" cy="13.7" r="4.2" fill="#d81818"/>
<rect x="172.8" y="12.2" width="3" height="3" fill="#fff"/>
<text x="183.5" y="13.2" font-size="12" fill="#000" stroke="#000" stroke-width="0.2">自动交易</text>
<!-- chart type icons -->
<g stroke="#505050" stroke-width="1" fill="none" shape-rendering="crispEdges">
<path d="M256.5,4 v14 M254,15.5 h14"/>
<path d="M284.5,4 v14 M282,15.5 h14"/>
<path d="M312.5,4 v14 M310,15.5 h14"/>
<path d="M436.5,4 v14 M435,15.5 h13"/>
<path d="M464.5,4 v14 M462,15.5 h14"/>
</g>
<g fill="#505050">
<path d="M254.5,5.5 l2,-2 l2,2 z"/><path d="M266.5,13.5 l2,2 l-2,2 z"/>
<path d="M282.5,5.5 l2,-2 l2,2 z"/><path d="M294.5,13.5 l2,2 l-2,2 z"/>
<path d="M310.5,5.5 l2,-2 l2,2 z"/><path d="M322.5,13.5 l2,2 l-2,2 z"/>
<path d="M446.5,13.5 l2,2 l-2,2 z"/>
<path d="M462.5,5.5 l2,-2 l2,2 z"/><path d="M474.5,13.5 l2,2 l-2,2 z"/>
</g>
<path d="M262.5,5 v8.5 M262.5,6.5 h2.5 M262.5,12.5 h-2.5" stroke="#139a13" stroke-width="1.2" fill="none"/>
<path d="M290.5,2 v12" stroke="#139a13" stroke-width="1.2"/>
<rect x="288.5" y="4.5" width="4" height="7" fill="#40e040" stroke="#139a13"/>
<path d="M311,12.5 Q317,4 321,9 L323,11" stroke="#30a030" stroke-width="1.2" fill="none"/>
<!-- zoom in/out -->
<path d="M351,11.5 L356.5,17" stroke="#c09820" stroke-width="2.6"/>
<path d="M351,11.5 L356.5,17" stroke="#f0d860" stroke-width="1.2"/>
<circle cx="348" cy="8" r="5.3" fill="#dcf0fc" stroke="#3a7cc8" stroke-width="1.2"/>
<path d="M345,8 h6 M348,5 v6" stroke="#4a80a8" stroke-width="1.6"/>
<path d="M379.5,11.5 L385,17" stroke="#c09820" stroke-width="2.6"/>
<path d="M379.5,11.5 L385,17" stroke="#f0d860" stroke-width="1.2"/>
<circle cx="376" cy="8" r="5.3" fill="#dcf0fc" stroke="#3a7cc8" stroke-width="1.2"/>
<path d="M373,8 h6" stroke="#4a80a8" stroke-width="1.6"/>
<!-- tile -->
<g shape-rendering="crispEdges">
<rect x="398" y="2" width="8" height="8" fill="#2ea02e"/><rect x="406" y="2" width="8" height="8" fill="#2050d0"/>
<rect x="398" y="10" width="8" height="8" fill="#2050d0"/><rect x="406" y="10" width="8" height="8" fill="#2ea02e"/>
<rect x="399" y="5" width="6" height="4" fill="#fff"/><rect x="407" y="5" width="6" height="4" fill="#fff"/>
<rect x="399" y="13" width="6" height="4" fill="#fff"/><rect x="407" y="13" width="6" height="4" fill="#fff"/>
</g>
<!-- auto scroll -->
<path d="M441.5,6 L445.5,9.5 L441.5,13 Z" fill="#60e060" stroke="#139a13" stroke-width="1"/>
<!-- chart shift -->
<path d="M470.5,4 v10" stroke="#2070b0" stroke-width="1.2"/>
<path d="M471.5,9.5 h4.5 M474,7.5 l-2.5,2 l2.5,2" stroke="#e05010" stroke-width="1.2" fill="none"/>
<!-- indicators -->
<path d="M495.5,2.5 h8 l3,3 v10 h-11 z" fill="#fff" stroke="#707070"/>
<path d="M499,7 q-1,0 -1,1.5 v5" stroke="#806040" stroke-width="0.8" fill="none"/>
<path d="M502.5,8.5 h3 v3.5 h3.5 v3 h-3.5 v3.5 h-3 v-3.5 h-3.5 v-3 h3.5 z" fill="#2ee82e" stroke="#139a13" stroke-width="1"/>
<path d="M517,9 h6 l-3,3 z" fill="#000"/>
<!-- clock -->
<circle cx="541.6" cy="9.8" r="6.6" fill="#fff" stroke="#1a68d8" stroke-width="2"/>
<path d="M541.5,6 v4 h3" stroke="#000" stroke-width="1" fill="none"/>
<path d="M556,9 h6 l-3,3 z" fill="#000"/>
<!-- template -->
<rect x="572.5" y="3.5" width="15" height="13" fill="#fff" stroke="#3a78c8" stroke-width="1"/>
<rect x="573" y="4" width="14" height="2" fill="#5a98e0"/>
<rect x="573" y="10.5" width="14" height="1" fill="#5a98e0"/>
<path d="M574,9 l2,0 l2,-1 l2,0.5 l2,-1 l2,0.5 l2,-1" stroke="#a02010" stroke-width="1" fill="none"/>
<path d="M574,14 l2,-0.5 l2,-0.8 l2,0.8 l2,-2 l2,2" stroke="#20a020" stroke-width="1" fill="none"/>
<path d="M595,9 h6 l-3,3 z" fill="#000"/>
<!-- cursor -->
<path d="M624,3 L632,10.5 L628.5,10.8 L630.5,16 L628.5,17 L626.5,12 L624,14 Z" fill="#505050"/>
<!-- crosshair -->
<g shape-rendering="crispEdges" fill="#444">
<rect x="649" y="10" width="6" height="1"/><rect x="658" y="10" width="6" height="1"/>
<rect x="656" y="3" width="1" height="6"/><rect x="656" y="12" width="1" height="6"/>
<rect x="690" y="4" width="1" height="13"/>
<rect x="713" y="10" width="12" height="1"/>
</g>
<path d="M741,17 L753,5" stroke="#444" stroke-width="1.1"/>
<!-- channel -->
<path d="M767,11.5 L775,3.5 M771.5,17 L781,8" stroke="#444" stroke-width="1" fill="none"/>
<path d="M768.5,15.5 L778.5,5.5" stroke="#333" stroke-width="1.3" fill="none"/>
<path d="M770.5,10.5 v5 M773.5,7.5 v5 M777.5,2 v7" stroke="#333" stroke-width="1.1" fill="none"/>
<text x="777.5" y="19" font-size="6.5" font-weight="bold" fill="#333">E</text>
<!-- fibo -->
<g fill="#444" shape-rendering="crispEdges">
<rect x="796" y="3" width="1" height="1"/><rect x="798" y="3" width="1" height="1"/><rect x="800" y="3" width="1" height="1"/><rect x="802" y="3" width="1" height="1"/><rect x="804" y="3" width="1" height="1"/><rect x="806" y="3" width="1" height="1"/><rect x="808" y="3" width="1" height="1"/>
<rect x="796" y="6" width="1" height="1"/><rect x="798" y="6" width="1" height="1"/><rect x="800" y="6" width="1" height="1"/><rect x="802" y="6" width="1" height="1"/><rect x="804" y="6" width="1" height="1"/><rect x="806" y="6" width="1" height="1"/><rect x="808" y="6" width="1" height="1"/>
<rect x="796" y="10" width="1" height="1"/><rect x="798" y="10" width="1" height="1"/><rect x="800" y="10" width="1" height="1"/><rect x="802" y="10" width="1" height="1"/><rect x="804" y="10" width="1" height="1"/><rect x="806" y="10" width="1" height="1"/><rect x="808" y="10" width="1" height="1"/>
<rect x="796" y="14" width="1" height="1"/><rect x="798" y="14" width="1" height="1"/><rect x="800" y="14" width="1" height="1"/><rect x="802" y="14" width="1" height="1"/>
</g>
<text x="805" y="19" font-size="6.5" font-weight="bold" fill="#333">F</text>
<!-- A -->
<text x="826.5" y="14.8" font-size="11" fill="#505050" stroke="#505050" stroke-width="0.5">A</text>
<!-- T box -->
<rect x="853.5" y="4.5" width="11" height="12" fill="none" stroke="#555" stroke-width="1" stroke-dasharray="1,1.8"/>
<path d="M855.5,7.5 h7 M859,7.5 v7.5" stroke="#505050" stroke-width="1.4"/>
<!-- arrows -->
<path d="M880,8 L883.5,4 L887,8 Z" fill="#505050"/>
<path d="M882.5,11.5 L884.5,13.5 L889,8.5" stroke="#505050" stroke-width="1.1" fill="none"/>
<path d="M887.5,13 L891,17 L894.5,13 Z" fill="#505050"/>
<path d="M901,9 h6 l-3,3 z" fill="#000"/>
<!-- timeframes -->
<g font-size="10.2" fill="#333">
<text x="927.5" y="14.2">M1</text>
<text x="955.5" y="14.2">M5</text>
<text x="981.5" y="14.2">M15</text>
<text x="1009.5" y="14.2">M30</text>
<text x="1040.5" y="14.2">H1</text>
<text x="1067.5" y="14.2">H4</text>
<text x="1096.5" y="14.2">D1</text>
<text x="1123.5" y="14.2">W1</text>
<text x="1150.5" y="14.2">MN</text>
</g>
<!-- search -->
<circle cx="1643.5" cy="7.4" r="3.6" fill="#fff" stroke="#2a62d0" stroke-width="1.3"/>
<path d="M1641,10 L1636.5,14.5" stroke="#2a62d0" stroke-width="2.2"/>
<!-- notification -->
<path d="M1661,11 q0,-5 6,-5 q6,0 6,5 q0,5 -6,5 h-2 l-2,2.5 v-3 q-2,-1.5 -2,-4.5 z" fill="#e4e6ee" stroke="#a0a0a0" stroke-width="0.8"/>
<circle cx="1674.3" cy="7.8" r="8" fill="url(#redb)"/>
<text x="1674.3" y="12" font-size="10.5" fill="#fff" text-anchor="middle" font-family="'Liberation Serif', serif">1</text>
</svg>
</div>
</body></html>
